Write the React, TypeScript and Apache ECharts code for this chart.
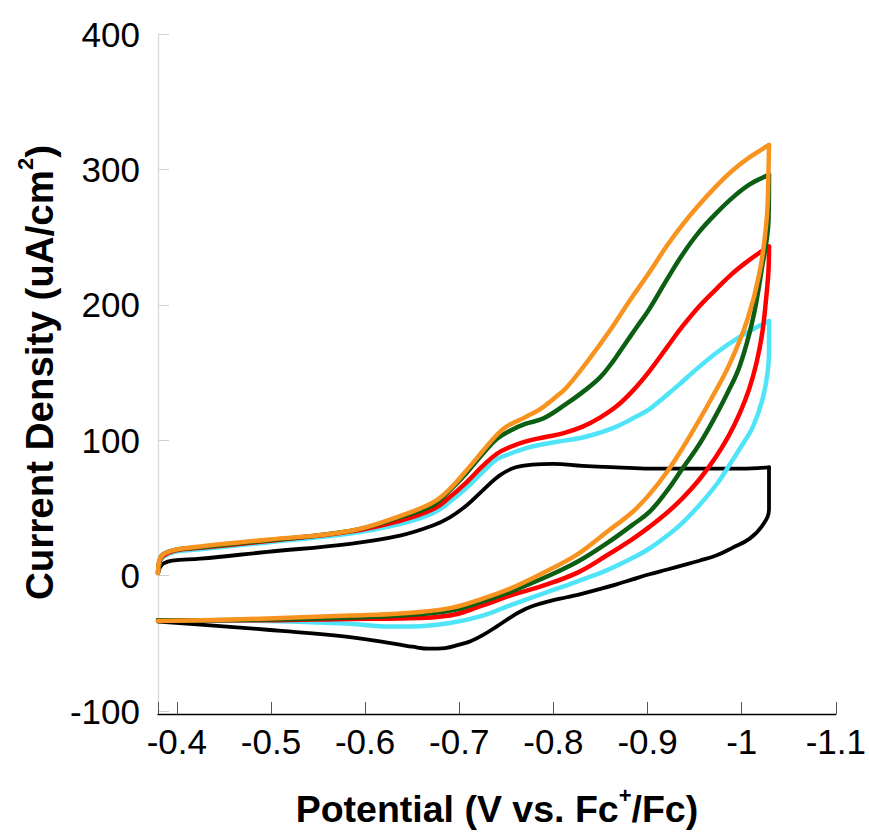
import React, { useEffect, useRef } from "react";
import * as echarts from "echarts";

// Potential (V vs. Fc+/Fc), current density (uA/cm2)
const blackForward: number[][] = [
  [-0.380, 2], [-0.382, 6], [-0.386, 9], [-0.395, 11], [-0.425, 12.5], [-0.496, 17.5],
  [-0.584, 23.5], [-0.637, 29.5], [-0.672, 37], [-0.690, 43], [-0.708, 52], [-0.725, 63],
  [-0.743, 74], [-0.760, 80], [-0.778, 82], [-0.800, 82.5], [-0.831, 81], [-0.867, 80],
  [-0.902, 79], [-0.950, 79], [-1.000, 79], [-1.029, 80],
];
const blackReverse: number[][] = [
  [-1.029, 80], [-1.029, 49], [-1.022, 37], [-1.0085, 27.3], [-0.990, 20.5], [-0.9735, 15],
  [-0.955, 11], [-0.937, 7.5], [-0.920, 4.3], [-0.902, 1], [-0.884, -2.8], [-0.867, -6.5],
  [-0.849, -10], [-0.831, -13.3], [-0.814, -16], [-0.796, -18.8], [-0.778, -22.5],
  [-0.765, -26.5], [-0.754, -31], [-0.740, -37.5], [-0.725, -44], [-0.712, -48.5],
  [-0.700, -51], [-0.685, -53.5], [-0.668, -54], [-0.650, -52.5], [-0.637, -51],
  [-0.605, -47.5], [-0.584, -45.5], [-0.540, -42.5], [-0.496, -40], [-0.460, -38],
  [-0.425, -36.2], [-0.380, -34],
];

const cyanForward: number[][] = [
  [-0.380, 2], [-0.382, 10], [-0.386, 14], [-0.398, 17.5], [-0.425, 19.5], [-0.496, 24.5],
  [-0.584, 31], [-0.637, 38], [-0.672, 46], [-0.690, 54.5], [-0.708, 65], [-0.725, 76.6],
  [-0.740, 86], [-0.754, 90], [-0.770, 94], [-0.789, 97], [-0.810, 99.5], [-0.831, 102],
  [-0.849, 105.5], [-0.867, 110], [-0.884, 116], [-0.902, 123], [-0.930, 139],
  [-0.952, 152.5], [-0.974, 165], [-0.995, 175], [-1.016, 183.5], [-1.029, 188],
];
const cyanReverse: number[][] = [
  [-1.029, 188], [-1.029, 165], [-1.0275, 150], [-1.022, 130], [-1.012, 110], [-1.001, 97],
  [-0.990, 85], [-0.974, 68], [-0.955, 52], [-0.937, 39], [-0.920, 29], [-0.902, 20],
  [-0.884, 13], [-0.857, 4], [-0.825, -4.4], [-0.789, -13.3], [-0.754, -22], [-0.725, -29.5],
  [-0.690, -35], [-0.650, -37.5], [-0.620, -37.5], [-0.584, -35.5], [-0.496, -33.5],
  [-0.425, -33], [-0.380, -33],
];

const redForward: number[][] = [
  [-0.380, 2], [-0.382, 11], [-0.386, 15], [-0.398, 18.5], [-0.425, 20.5], [-0.496, 25.5],
  [-0.584, 32.5], [-0.637, 40.5], [-0.672, 49], [-0.690, 58], [-0.708, 69], [-0.725, 81],
  [-0.740, 90], [-0.754, 95], [-0.770, 99], [-0.789, 102], [-0.810, 105], [-0.831, 110],
  [-0.849, 116.5], [-0.867, 125], [-0.885, 137], [-0.902, 151], [-0.920, 168], [-0.937, 184],
  [-0.955, 199], [-0.9735, 212], [-0.990, 223], [-1.006, 232], [-1.019, 238.5], [-1.029, 243],
];
const redReverse: number[][] = [
  [-1.029, 243], [-1.0285, 226], [-1.026, 205], [-1.022, 180], [-1.016, 158], [-1.008, 138],
  [-0.998, 120], [-0.986, 103], [-0.972, 87], [-0.955, 71], [-0.937, 57], [-0.920, 46],
  [-0.902, 36], [-0.884, 27], [-0.857, 15], [-0.825, 2], [-0.789, -7.4], [-0.754, -14.7],
  [-0.725, -22], [-0.690, -29.5], [-0.637, -31.7], [-0.584, -32], [-0.496, -33],
  [-0.425, -33], [-0.380, -33],
];

const greenForward: number[][] = [
  [-0.380, 2], [-0.382, 12], [-0.386, 16], [-0.398, 19], [-0.425, 21], [-0.496, 26],
  [-0.584, 33], [-0.637, 43], [-0.672, 52], [-0.690, 63], [-0.708, 76], [-0.725, 90],
  [-0.740, 101], [-0.754, 107], [-0.770, 112], [-0.789, 116], [-0.814, 127], [-0.831, 135.5],
  [-0.849, 146], [-0.862, 157], [-0.875, 170], [-0.888, 183], [-0.902, 197], [-0.920, 218],
  [-0.937, 237], [-0.955, 254], [-0.9735, 268], [-0.990, 279], [-1.0085, 289], [-1.029, 296],
];
const greenReverse: number[][] = [
  [-1.029, 296], [-1.0285, 263], [-1.0212, 226], [-1.0117, 189], [-0.998, 155],
  [-0.985, 135], [-0.970, 115], [-0.955, 97], [-0.937, 79], [-0.920, 62], [-0.902, 47],
  [-0.884, 37.5], [-0.857, 24], [-0.825, 10], [-0.789, -2], [-0.754, -12], [-0.725, -19],
  [-0.690, -26], [-0.637, -29.5], [-0.584, -31], [-0.496, -32.5], [-0.425, -33],
  [-0.380, -33],
];

const orangeForward: number[][] = [
  [-0.380, 2], [-0.381, 10], [-0.3835, 14], [-0.3875, 16.5], [-0.398, 19], [-0.425, 21.5],
  [-0.496, 26.5], [-0.584, 33], [-0.637, 44], [-0.672, 54], [-0.690, 64], [-0.708, 78],
  [-0.725, 92], [-0.740, 104], [-0.750, 110], [-0.770, 117], [-0.786, 123], [-0.800, 130.5],
  [-0.814, 139], [-0.837, 159], [-0.860, 181], [-0.881, 203], [-0.902, 224], [-0.920, 243],
  [-0.937, 259], [-0.955, 274], [-0.9735, 288], [-0.990, 299], [-1.0085, 309], [-1.029, 318],
];
const orangeReverse: number[][] = [
  [-1.029, 318], [-1.0285, 300], [-1.0265, 263], [-1.019, 224], [-1.006, 189],
  [-0.987, 156], [-0.968, 131], [-0.955, 115], [-0.937, 94], [-0.920, 76], [-0.902, 60],
  [-0.884, 47], [-0.857, 32.4], [-0.825, 15.5], [-0.789, 2], [-0.754, -9.6], [-0.725, -17],
  [-0.690, -24], [-0.637, -28], [-0.584, -29.5], [-0.496, -31.7], [-0.425, -33],
  [-0.380, -33.5],
];

const seriesNames = ["black", "cyan", "red", "green", "orange"];
const seriesColors = ["#000000", "#4FE4F8", "#FF0000", "#0B5E12", "#F7931E"];
const seriesWidths = [3.8, 4.5, 4.5, 4.5, 4.5];
const forwardData = [blackForward, cyanForward, redForward, greenForward, orangeForward];
const reverseData = [blackReverse, cyanReverse, redReverse, greenReverse, orangeReverse];

const xMin = -1.1;
const xMax = -0.38;
const yMin = -100;
const yMax = 400;
const xTitle = ["Potential (V vs. Fc", "+", "/Fc)"];
const yTitle = ["Current Density (uA/cm", "2", ")"];

export default function App() {
  const ref = useRef<HTMLDivElement>(null);
  useEffect(() => {
    document.body.style.margin = "0";
    const chart = echarts.init(ref.current!, null, { renderer: "svg" });
    const font = "'Liberation Sans', Arial, sans-serif";
    const makeRich = (size: number) => ({
      t: { fontSize: size, fontWeight: "bold", fontFamily: font, color: "#000", lineHeight: 50 },
      s: { fontSize: 22, fontWeight: "bold", fontFamily: font, color: "#000", lineHeight: 22, verticalAlign: "top" },
    });
    const series: any[] = [];
    seriesNames.forEach((n, i) => {
      [forwardData[i], reverseData[i]].forEach((d, k) => {
        series.push({
          name: n,
          id: n + (k === 0 ? "-fwd" : "-rev"),
          type: "line",
          data: d,
          showSymbol: false,
          symbol: "none",
          smooth: 0.4,
          lineStyle: { color: seriesColors[i], width: seriesWidths[i], cap: "round", join: "round" },
          z: 2 + i,
        });
      });
    });
    chart.setOption({
      animation: false,
      grid: { left: 158, right: 33, top: 34, bottom: 120, containLabel: false },
      xAxis: {
        type: "value",
        inverse: true,
        min: xMin,
        max: xMax,
        interval: 0.1,
        offset: 3,
        axisLine: { onZero: false, lineStyle: { color: "#000", width: 1.3 } },
        axisTick: { inside: true, length: 12, lineStyle: { color: "#555", width: 1 } },
        splitLine: { show: false },
        axisLabel: {
          fontSize: 35,
          color: "#000",
          fontFamily: font,
          margin: 10,
          formatter: (v: number) => {
            const r = Math.round(v * 10);
            if (Math.abs(v * 10 - r) > 0.01) return "";
            return String(r / 10);
          },
        },
        name: `{t|${xTitle[0]}}{s|${xTitle[1]}}{t|${xTitle[2]}}`,
        nameLocation: "middle",
        nameGap: 70,
        nameTextStyle: { rich: makeRich(37.5) },
      },
      yAxis: {
        type: "value",
        min: yMin,
        max: yMax,
        interval: 100,
        axisLine: { show: true, lineStyle: { color: "#D9D9D9", width: 1.3 } },
        axisTick: { show: true, inside: true, length: 11, lineStyle: { color: "#D0D0D0" } },
        splitLine: { show: false },
        axisLabel: { fontSize: 35, color: "#000", fontFamily: font, margin: 18 },
        name: `{t|${yTitle[0]}}{s|${yTitle[1]}}{t|${yTitle[2]}}`,
        nameLocation: "middle",
        nameRotate: 90,
        nameGap: 87,
        nameTextStyle: { rich: makeRich(38.5) },
      },
      series,
    });
    return () => chart.dispose();
  }, []);
  return <div ref={ref} style={{ width: 869, height: 833 }} />;
}
